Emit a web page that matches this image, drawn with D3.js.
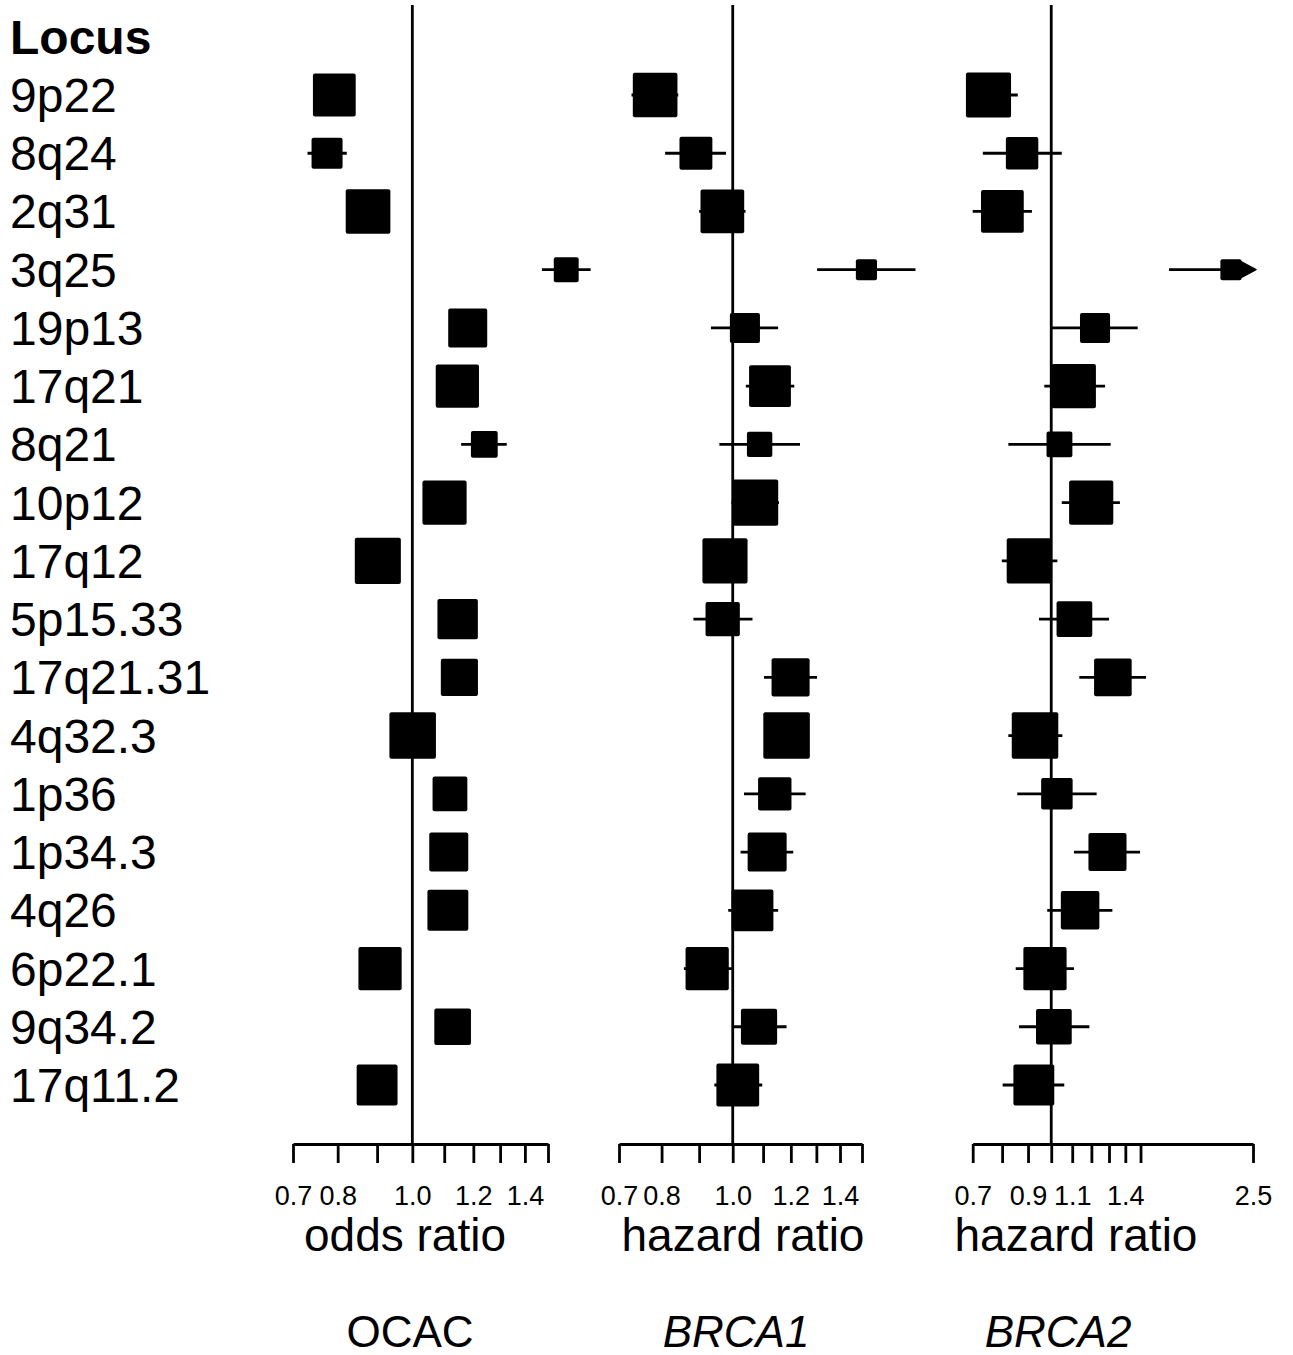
<!DOCTYPE html>
<html>
<head>
<meta charset="utf-8">
<script src="https://cdn.jsdelivr.net/npm/d3@7"></script>
<style>
  html, body { margin: 0; padding: 0; background: #fff; }
  svg { display: block; font-family: "Liberation Sans", Arial, Helvetica, sans-serif; }
</style>
</head>
<body>
<svg id="chart" width="1293" height="1355"></svg>
<script>
// ---------------- data ----------------
const loci = ["9p22","8q24","2q31","3q25","19p13","17q21","8q21","10p12","17q12",
  "5p15.33","17q21.31","4q32.3","1p36","1p34.3","4q26","6p22.1","9q34.2","17q11.2"];

// OCAC odds ratios
const ocacOR = [0.792,0.775,0.876,1.584,1.180,1.144,1.240,1.101,0.902,1.145,1.151,1.001,1.119,1.115,1.112,0.908,1.128,0.900];
const ocacLo = [0.770,0.731,0.850,1.473,1.150,1.115,1.157,1.075,0.875,1.115,1.120,0.970,1.090,1.085,1.080,0.880,1.100,0.870];
const ocacHi = [0.815,0.822,0.900,1.704,1.210,1.175,1.326,1.130,0.930,1.175,1.180,1.030,1.150,1.145,1.145,0.935,1.160,0.930];
const ocacW  = [0.91,0.66,0.95,0.53,0.83,0.92,0.57,0.94,0.98,0.86,0.79,0.99,0.74,0.83,0.87,0.92,0.78,0.87];

// BRCA1 hazard ratios
const brca1HR = [0.784,0.891,0.968,1.521,1.039,1.124,1.088,1.073,0.976,0.969,1.199,1.184,1.141,1.114,1.064,0.923,1.086,1.016];
const brca1Lo = [0.728,0.809,0.900,1.303,0.934,1.042,0.959,0.996,0.930,0.884,1.103,1.130,1.036,1.025,0.986,0.858,1.000,0.944];
const brca1Hi = [0.843,0.979,1.041,1.774,1.153,1.213,1.235,1.156,1.020,1.064,1.303,1.240,1.257,1.209,1.153,0.997,1.184,1.097];
const brca1W  = [0.95,0.70,0.93,0.45,0.64,0.89,0.54,0.98,0.96,0.73,0.81,0.99,0.71,0.83,0.89,0.92,0.77,0.91];

// BRCA2 hazard ratios
const brca2HR = [0.752,0.876,0.801,2.262,1.220,1.108,1.038,1.199,0.905,1.111,1.323,0.929,1.026,1.291,1.140,0.972,1.012,0.924];
const brca2Lo = [0.690,0.733,0.700,1.707,1.002,0.969,0.823,1.049,0.799,0.946,1.136,0.823,0.857,1.109,0.982,0.851,0.864,0.802];
const brca2Hi = [0.859,1.049,0.916,3.100,1.481,1.277,1.310,1.366,1.028,1.300,1.538,1.052,1.229,1.497,1.320,1.109,1.189,1.061];
const brca2W  = [0.96,0.69,0.91,0.45,0.64,0.94,0.55,0.94,0.96,0.76,0.80,0.99,0.67,0.81,0.82,0.92,0.76,0.87];

// axis ticks
const ticksA = [0.7,0.8,0.9,1.0,1.1,1.2,1.3,1.4,1.5];
const labelsA = [0.7,0.8,1.0,1.2,1.4];
const ticksB = [0.7,0.8,0.9,1.0,1.1,1.2,1.3,1.4,1.5,2.5];
const labelsB = [0.7,0.9,1.1,1.4,2.5];

const panelTitles = ["OCAC","BRCA1","BRCA2"];
const axisTitles = ["odds ratio","hazard ratio","hazard ratio"];

// ---------------- layout ----------------
const svg = d3.select("#chart");
const axisY = 1144;
const y = d3.scalePoint().domain(loci).range([95, 1085]);
const size = d3.scaleLinear().domain([0, 1]).range([0, 47]);

const panels = [
  {or: ocacOR, lo: ocacLo, hi: ocacHi, w: ocacW, dom: [0.7,1.5], rng: [293,548], ticks: ticksA, labels: labelsA, clip: null, titleX: 410, axisTitleX: 405, italic: false},
  {or: brca1HR, lo: brca1Lo, hi: brca1Hi, w: brca1W, dom: [0.7,1.5], rng: [619,862], ticks: ticksA, labels: labelsA, clip: null, titleX: 736, axisTitleX: 743, italic: true},
  {or: brca2HR, lo: brca2Lo, hi: brca2Hi, w: brca2W, dom: [0.7,2.5], rng: [972.7,1253], ticks: ticksB, labels: labelsB, clip: 2.5, titleX: 1058, axisTitleX: 1076, italic: true}
];

// row labels
svg.append("text").attr("x", 10).attr("y", 54)
  .attr("font-size", 48).attr("font-weight", "bold").text("Locus");
svg.selectAll("text.locus").data(loci).enter().append("text")
  .attr("class", "locus")
  .attr("x", 10).attr("y", d => y(d) + 17)
  .attr("font-size", 48).text(d => d);

panels.forEach((p, pi) => {
  const x = d3.scaleLog().domain(p.dom).range(p.rng);
  const g = svg.append("g");
  const clipped = d => p.clip !== null && d.hi > p.clip;

  // reference line at 1
  g.append("line")
    .attr("x1", x(1)).attr("x2", x(1)).attr("y1", 5).attr("y2", axisY)
    .attr("stroke", "#000").attr("stroke-width", 2.8);

  // axis
  const axis = d3.axisBottom(x)
    .tickValues(p.ticks)
    .tickSize(19).tickSizeOuter(0).tickPadding(23)
    .tickFormat(d => p.labels.some(l => Math.abs(l - d) < 1e-9) ? d3.format(".1f")(d) : "");
  const ag = g.append("g").attr("transform", `translate(0,${axisY})`).call(axis);
  ag.select(".domain").attr("stroke", "#000").attr("stroke-width", 2.8);
  ag.selectAll(".tick line").attr("stroke", "#000").attr("stroke-width", 2.8);
  ag.selectAll(".tick text").attr("font-size", 27).attr("fill", "#000")
    .attr("font-family", "Liberation Sans, Arial, sans-serif");

  // axis title
  g.append("text").attr("x", p.axisTitleX).attr("y", 1251)
    .attr("text-anchor", "middle").attr("font-size", 46).text(axisTitles[pi]);
  // panel title
  g.append("text").attr("x", p.titleX).attr("y", 1347)
    .attr("text-anchor", "middle").attr("font-size", 44)
    .attr("font-style", p.italic ? "italic" : "normal").text(panelTitles[pi]);

  const rows = loci.map((l, i) => ({l, or: p.or[i], lo: p.lo[i], hi: p.hi[i], w: p.w[i]}));

  // CI lines
  g.selectAll("line.ci").data(rows).enter().append("line")
    .attr("class", "ci")
    .attr("x1", d => x(d.lo))
    .attr("x2", d => clipped(d) ? x(p.clip) - 12 : x(d.hi))
    .attr("y1", d => y(d.l)).attr("y2", d => y(d.l))
    .attr("stroke", "#000").attr("stroke-width", 2.8);

  // squares
  g.selectAll("rect.pt").data(rows).enter().append("rect")
    .attr("class", "pt")
    .attr("x", d => x(d.or) - size(d.w) / 2)
    .attr("y", d => y(d.l) - size(d.w) / 2)
    .attr("width", d => size(d.w)).attr("height", d => size(d.w))
    .attr("rx", 2).attr("fill", "#000");

  // arrows for clipped upper limits
  g.selectAll("path.arrow").data(rows.filter(clipped)).enter().append("path")
    .attr("class", "arrow")
    .attr("d", d => {
      const tip = x(p.clip) + 3, yy = y(d.l);
      return `M${tip - 15},${yy - 8} L${tip},${yy} L${tip - 15},${yy + 8} Z`;
    })
    .attr("fill", "#000").attr("stroke", "#000").attr("stroke-width", 1.5)
    .attr("stroke-linejoin", "round");
});
</script>
</body>
</html>
